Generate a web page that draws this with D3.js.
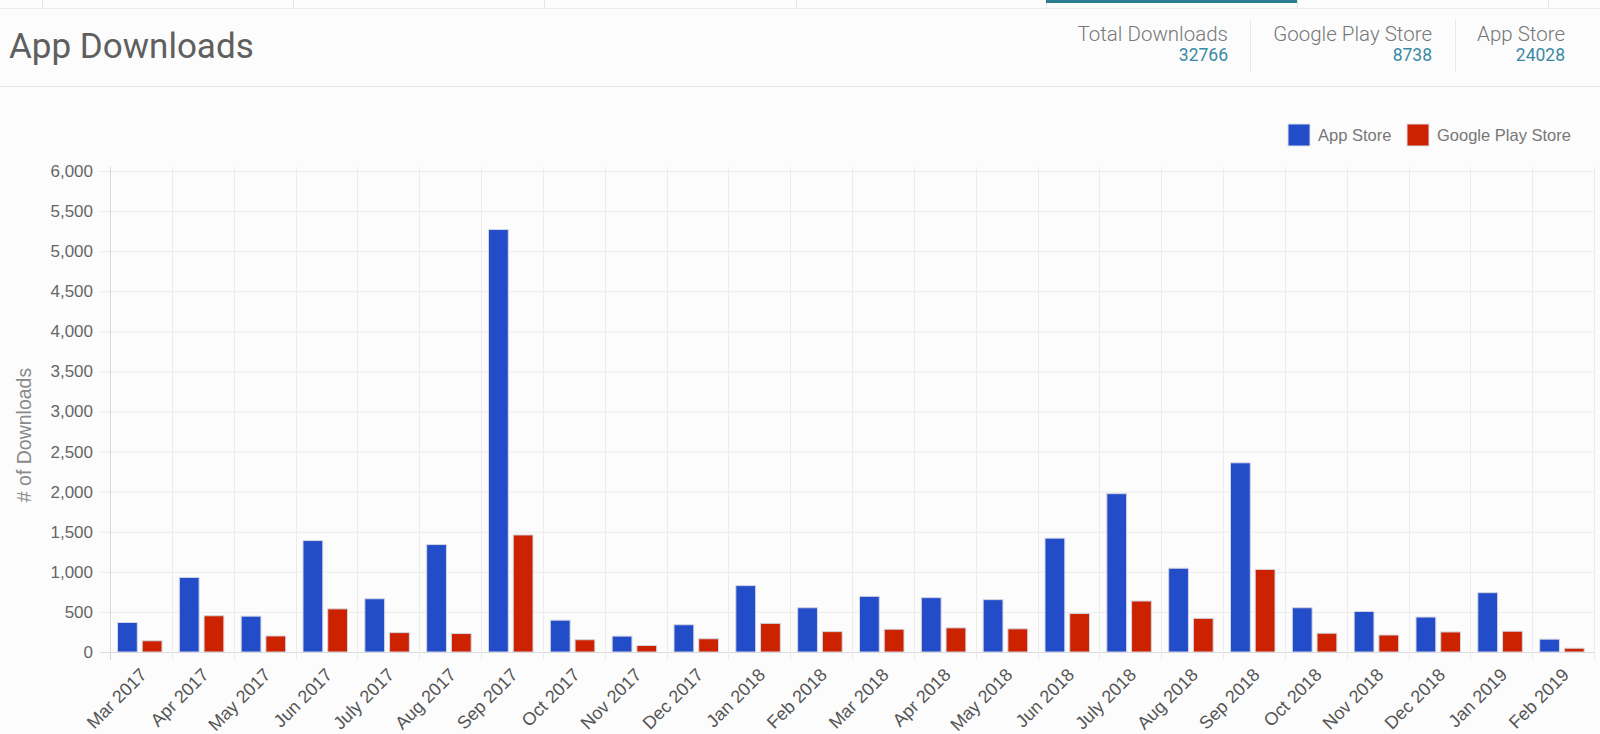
<!DOCTYPE html>
<html>
<head>
<meta charset="utf-8">
<script src="https://cdn.jsdelivr.net/npm/d3@7"></script>
<style>
  body { margin: 0; background: #fcfcfc; }
  svg { display: block; }
  .axis text { font-family: Arial, "Liberation Sans", sans-serif; fill: #666; }
</style>
</head>
<body>
<div id="chart"></div>
<script>
var width = 1600, height = 734,
    margin = {top: 171, right: 6, bottom: 82, left: 110};

var months = ["Mar 2017", "Apr 2017", "May 2017", "Jun 2017", "July 2017", "Aug 2017",
    "Sep 2017", "Oct 2017", "Nov 2017", "Dec 2017", "Jan 2018", "Feb 2018",
    "Mar 2018", "Apr 2018", "May 2018", "Jun 2018", "July 2018", "Aug 2018",
    "Sep 2018", "Oct 2018", "Nov 2018", "Dec 2018", "Jan 2019", "Feb 2019"];
var appStore = [368, 930, 447, 1390, 664, 1340, 5270, 397, 198, 340, 828, 552,
    694, 678, 653, 1420, 1975, 1045, 2360, 552, 506, 436, 740, 160];
var googlePlay = [140, 452, 200, 538, 242, 230, 1460, 153, 81, 165, 357, 254,
    284, 301, 289, 480, 636, 420, 1030, 234, 212, 250, 259, 47];
var seriesNames = ["App Store", "Google Play Store"];
var seriesColors = ["#234cc8", "#cc2200"];
var yTicks = d3.range(0, 6001, 500);
var stats = [
    {label: "Total Downloads", value: "32766"},
    {label: "Google Play Store", value: "8738"},
    {label: "App Store", value: "24028"}
];

var svg = d3.select("#chart").append("svg")
    .attr("width", width)
    .attr("height", height);

// top tab strip
var tabEdges = [42, 293, 544, 796, 1046, 1297, 1548];
svg.append("line")
    .attr("x1", 0).attr("x2", width)
    .attr("y1", 8.5).attr("y2", 8.5)
    .style("stroke", "#ececec");
svg.selectAll("line.tab").data(tabEdges).join("line")
    .attr("class", "tab")
    .attr("x1", function(d) { return d + 0.5; })
    .attr("x2", function(d) { return d + 0.5; })
    .attr("y1", 0).attr("y2", 8)
    .style("stroke", "#e6e6e6");
svg.append("rect")
    .attr("x", 1046).attr("y", 0)
    .attr("width", 251).attr("height", 3)
    .style("fill", "#2b7d8f");

// header
svg.append("text")
    .attr("x", 9).attr("y", 58)
    .style("font-family", "Roboto, sans-serif")
    .style("font-size", "35px")
    .style("fill", "#5f5f5f")
    .text("App Downloads");

svg.append("line")
    .attr("x1", 0).attr("x2", width)
    .attr("y1", 86.5).attr("y2", 86.5)
    .style("stroke", "#e8e8e8");

var statRight = [1228, 1432, 1565];
var st = svg.selectAll("g.stat").data(stats).join("g")
    .attr("class", "stat")
    .attr("transform", function(d, i) { return "translate(" + statRight[i] + ",0)"; });
st.append("text")
    .attr("y", 41)
    .attr("text-anchor", "end")
    .style("font-family", "Roboto, sans-serif")
    .style("font-weight", 300)
    .style("font-size", "20.5px")
    .style("fill", "#777")
    .text(function(d) { return d.label; });
st.append("text")
    .attr("y", 61)
    .attr("text-anchor", "end")
    .style("font-family", "Roboto, sans-serif")
    .style("font-size", "17.5px")
    .style("fill", "#3b8aa3")
    .text(function(d) { return d.value; });
svg.selectAll("line.sep").data([1250, 1455]).join("line")
    .attr("class", "sep")
    .attr("x1", function(d) { return d + 0.5; })
    .attr("x2", function(d) { return d + 0.5; })
    .attr("y1", 20).attr("y2", 72)
    .style("stroke", "#e8e8e8");

// scales
var x = d3.scaleBand()
    .domain(months)
    .range([margin.left, width - margin.right]);

var x1 = d3.scaleBand()
    .domain(seriesNames)
    .range([7.5, 52])
    .paddingInner(0.2);

var y = d3.scaleLinear()
    .domain([0, 6000])
    .range([height - margin.bottom, margin.top]);

// horizontal grid + y labels
var yAxis = d3.axisLeft(y)
    .tickValues(yTicks)
    .tickFormat(d3.format(","))
    .tickSize(-(width - margin.right - 100))
    .tickPadding(7);

var gy = svg.append("g")
    .attr("class", "y axis")
    .attr("transform", "translate(100,0)")
    .call(yAxis);
gy.select(".domain").remove();
gy.selectAll("line").style("stroke", function(d) { return d === 0 ? "#dcdcdc" : "#ececec"; });
gy.selectAll("text").style("font-size", "17px");

// vertical grid
var vEdges = months.map(function(m) { return x(m); }).concat([x.range()[1]]);
svg.selectAll("line.vgrid").data(vEdges).join("line")
    .attr("class", "vgrid")
    .attr("x1", function(d) { return Math.round(d) + 0.5; })
    .attr("x2", function(d) { return Math.round(d) + 0.5; })
    .attr("y1", margin.top - 4)
    .attr("y2", y(0) + 8)
    .style("stroke", function(d, i) { return i === 0 ? "#d8d8d8" : "#ececec"; });

// x labels
var gx = svg.append("g")
    .attr("class", "x axis")
    .attr("transform", "translate(0," + y(0) + ")")
    .call(d3.axisBottom(x).tickSize(0));
gx.select(".domain").remove();
gx.selectAll("text")
    .attr("x", 0).attr("y", 0).attr("dy", 0)
    .attr("text-anchor", "end")
    .attr("transform", "translate(7,24) rotate(-45)")
    .style("font-size", "18px")
    .style("fill", "#555");

// y title
svg.append("text")
    .attr("transform", "translate(31,435) rotate(-90)")
    .attr("text-anchor", "middle")
    .style("font-family", "Arial, 'Liberation Sans', sans-serif")
    .style("font-size", "19.5px")
    .style("fill", "#8a8a8a")
    .text("# of Downloads");

// bars
var rows = months.map(function(m, i) {
    return {month: m, values: [appStore[i], googlePlay[i]]};
});

var groups = svg.append("g").selectAll("g").data(rows).join("g")
    .attr("transform", function(d) { return "translate(" + x(d.month) + ",0)"; });

groups.selectAll("rect")
    .data(function(d) { return d.values.map(function(v, j) { return {key: seriesNames[j], value: v, j: j}; }); })
    .join("rect")
    .attr("x", function(d) { return x1(d.key); })
    .attr("width", x1.bandwidth())
    .attr("y", function(d) { return y(d.value); })
    .attr("height", function(d) { return y(0) - y(d.value); })
    .style("fill", function(d) { return seriesColors[d.j]; })
    .style("stroke", "#d4d6e2")
    .style("stroke-width", 1);

// legend
var legendX = [1288, 1407];
var lg = svg.selectAll("g.legend").data(seriesNames).join("g")
    .attr("class", "legend")
    .attr("transform", function(d, i) { return "translate(" + legendX[i] + ",124)"; });
lg.append("rect")
    .attr("width", 22).attr("height", 22)
    .style("fill", function(d, i) { return seriesColors[i]; })
    .style("stroke", "#dde")
    .style("stroke-width", 1);
lg.append("text")
    .attr("x", 30).attr("y", 17)
    .style("font-family", "Arial, 'Liberation Sans', sans-serif")
    .style("font-size", "16.5px")
    .style("fill", "#777")
    .text(function(d) { return d; });
</script>
</body>
</html>
